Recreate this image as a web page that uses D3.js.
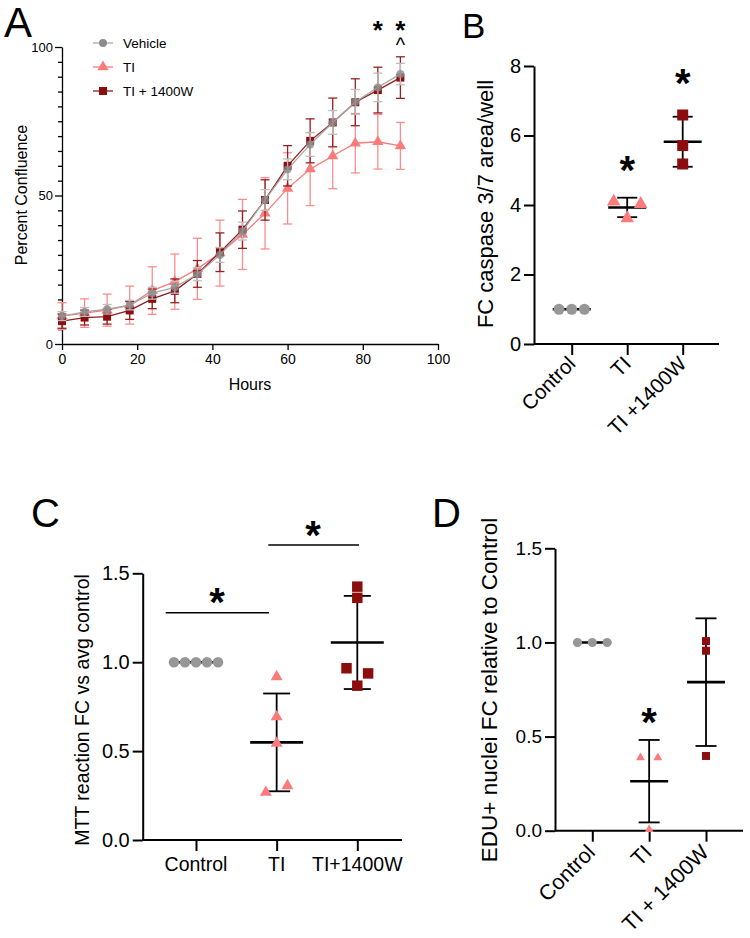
<!DOCTYPE html>
<html><head><meta charset="utf-8">
<script src="https://cdn.jsdelivr.net/npm/d3@7"></script>
<style>
body{margin:0;background:#fff}
svg text{font-family:"Liberation Sans",Arial,Helvetica,sans-serif;fill:#000}
</style>
</head><body>
<svg id="chart" width="750" height="938"></svg>
<script>
// ===================== DATA =====================
// Panel A – percent confluence over time
const hours = [0,6,12,18,24,30,36,42,48,54,60,66,72,78,84,90];
const vehicleMean = [9.4,10.8,11.7,13.1,17.1,19.1,23.5,30.0,38.0,48.5,58.8,67.2,74.6,81.5,86.4,90.9];
const vehicleSD   = [1.5,1.5,1.6,1.6,2.0,2.0,2.2,2.5,3.0,3.5,3.5,4.0,4.0,4.2,4.8,3.6];
const tiMean      = [9.4,10.4,11.4,13.1,18.0,21.0,25.3,30.6,36.9,44.0,52.4,58.9,63.3,67.6,68.1,66.7];
const tiSD        = [4.5,4.8,5.4,6.4,8.0,9.3,10.3,11.1,11.8,12.0,12.0,12.3,11.0,10.0,9.2,7.9];
const tiwMean     = [7.7,8.9,9.2,11.3,15.2,17.9,23.6,30.9,38.5,48.5,60.0,68.4,74.6,81.4,85.5,89.7];
const tiwSD       = [2.4,2.5,2.5,3.0,3.3,4.0,4.5,6.5,6.3,6.8,6.8,7.4,8.2,7.9,7.7,7.0];
const aSeriesNames = ["Vehicle","TI","TI + 1400W"];
const aXTicks = [0,20,40,60,80,100];
const aYTicks = [0,50,100];
const aStarHours = [84,90];
const aCaretHours = [90];

// Panel B – caspase 3/7
const bCategories = ["Control","TI","TI +1400W"];
const bControl = [1.0,1.0,1.0];
const bTI      = [4.10,3.62,4.03];
const bTIW     = [6.59,5.71,5.18];
const bMean    = [1.0,3.93,5.82];
const bSD      = [0.0,0.28,0.72];
const bYTicks  = [0,2,4,6,8];
const bStarCats = ["TI","TI +1400W"];

// Panel C – MTT
const cCategories = ["Control","TI","TI+1400W"];
const cControl = [1.0,1.0,1.0,1.0,1.0];
const cTI      = [0.918,0.693,0.544,0.268,0.305];
const cTIW     = [1.425,1.362,0.966,0.937,0.868];
const cMean    = [1.0,0.549,1.111];
const cSD      = [0.0,0.275,0.262];
const cYTicks  = [0,0.5,1.0,1.5];

// Panel D – EdU
const dCategories = ["Control","TI","TI + 1400W"];
const dControl = [1.0,1.0,1.0];
const dTI      = [0.388,0.388,0.007];
const dTIW     = [1.007,0.956,0.397];
const dMean    = [1.0,0.263,0.789];
const dSD      = [0.0,0.219,0.339];
const dYTicks  = [0,0.5,1.0,1.5];
const dStarCats = ["TI"];

// ===================== STYLE =====================
const GRAY = "#979797", PINK = "#fa7b7b", DARK = "#8b0d0d";
const svg = d3.select("#chart");

function styleAxis(g, w){
  g.selectAll(".domain").attr("stroke","#000").attr("stroke-width",w);
  g.selectAll(".tick line").attr("stroke","#000").attr("stroke-width",w);
  g.selectAll(".tick text").attr("fill","#000");
}
function panelLetter(t,x,y,size){
  svg.append("text").attr("x",x).attr("y",y).attr("font-size",size).text(t);
}
function star(x,cy,size){
  svg.append("text").attr("x",x).attr("y",cy+size*0.56).attr("text-anchor","middle")
    .attr("font-size",size).attr("font-weight","bold").text("*");
}

// ===================== PANEL A =====================
(function(){
  const xA = d3.scaleLinear().domain([0,100]).range([62,438]);
  const yA = d3.scaleLinear().domain([0,100]).range([344,47]);
  const g = svg.append("g");

  // minor y ticks
  const minor = g.append("g").attr("transform","translate(62,0)")
    .call(d3.axisLeft(yA).tickValues(d3.range(5,100,5).filter(v=>v%50!==0)).tickSize(4).tickFormat(""));
  minor.select(".domain").remove(); styleAxis(minor,1.3);
  const ya = g.append("g").attr("transform","translate(62,0)")
    .call(d3.axisLeft(yA).tickValues(aYTicks).tickSize(7).tickSizeOuter(0).tickPadding(2));
  ya.selectAll("text").attr("font-size",13);
  styleAxis(ya,1.3);
  const xa = g.append("g").attr("transform","translate(0,344)")
    .call(d3.axisBottom(xA).tickValues(aXTicks).tickSize(6).tickSizeOuter(0).tickPadding(4));
  xa.selectAll("text").attr("font-size",14);
  styleAxis(xa,1.3);

  g.append("text").attr("transform","translate(27,195) rotate(-90)").attr("text-anchor","middle")
    .attr("font-size",16).text("Percent Confluence");
  g.append("text").attr("x",250).attr("y",390).attr("text-anchor","middle").attr("font-size",16).text("Hours");

  const series = [
    {name:aSeriesNames[1], mean:tiMean, sd:tiSD, color:PINK, line:PINK, bar:"#fb8d8d", sym:d3.symbolTriangle, size:55, op:1},
    {name:aSeriesNames[2], mean:tiwMean, sd:tiwSD, color:DARK, line:"#8f1f1f", bar:"#962020", sym:d3.symbolSquare, size:64, op:1},
    {name:aSeriesNames[0], mean:vehicleMean, sd:vehicleSD, color:"#8c8c8c", line:"#a8a8a8", bar:"#bdbdbd", sym:d3.symbolCircle, size:50, op:0.8}
  ];
  series.forEach(s=>{
    const pts = hours.map((h,i)=>({h, m:s.mean[i], sd:s.sd[i]}));
    const sg = g.append("g");
    sg.selectAll("line.v").data(pts).join("line")
      .attr("x1",d=>xA(d.h)).attr("x2",d=>xA(d.h))
      .attr("y1",d=>yA(d.m+d.sd)).attr("y2",d=>yA(d.m-d.sd))
      .attr("stroke",s.bar).attr("stroke-width",1.3);
    ["top","bot"].forEach(k=>{
      sg.selectAll("line."+k).data(pts).join("line")
        .attr("x1",d=>xA(d.h)-4.5).attr("x2",d=>xA(d.h)+4.5)
        .attr("y1",d=>yA(k==="top"?d.m+d.sd:d.m-d.sd)).attr("y2",d=>yA(k==="top"?d.m+d.sd:d.m-d.sd))
        .attr("stroke",s.bar).attr("stroke-width",1.3);
    });
    sg.append("path").datum(pts)
      .attr("d",d3.line().x(d=>xA(d.h)).y(d=>yA(d.m)))
      .attr("fill","none").attr("stroke",s.line).attr("stroke-width",1.3);
    sg.selectAll("path.m").data(pts).join("path")
      .attr("transform",d=>`translate(${xA(d.h)},${yA(d.m)})`)
      .attr("d",d3.symbol(s.sym,s.size)).attr("fill",s.color).attr("fill-opacity",s.op);
  });

  // legend
  const legOrder = [series[2],series[0],series[1]];
  legOrder.forEach((s,i)=>{
    const y = 43 + i*24;
    g.append("line").attr("x1",93).attr("x2",113).attr("y1",y).attr("y2",y).attr("stroke",s.line).attr("stroke-width",1.3);
    g.append("path").attr("transform",`translate(103,${y})`).attr("d",d3.symbol(s.sym,s.size)).attr("fill",s.color);
    g.append("text").attr("x",123).attr("y",y+5).attr("font-size",13.5).text(s.name);
  });

  aStarHours.forEach(h=>star(xA(h),24,26));
  aCaretHours.forEach(h=>{
    g.append("text").attr("x",xA(h)).attr("y",51.5).attr("text-anchor","middle").attr("font-size",20).text("^");
  });
  panelLetter("A",4,37,42);
})();

// ===================== DOT PLOT HELPER =====================
function spread(values, y, thresh, step, pairStep){
  const idx = values.map((v,i)=>i).sort((a,b)=>values[a]-values[b]);
  const groups=[]; let cur=[idx[0]];
  for(let k=1;k<idx.length;k++){
    if(Math.abs(y(values[idx[k]])-y(values[cur[cur.length-1]]))<thresh) cur.push(idx[k]);
    else {groups.push(cur); cur=[idx[k]];}
  }
  groups.push(cur);
  const off = new Array(values.length).fill(0);
  groups.forEach(gr=>{
    gr.sort((a,b)=>a-b);
    const n=gr.length;
    gr.forEach((id,j)=>{ off[id] = n===2 ? (j===0?-pairStep:pairStep) : (j-(n-1)/2)*step; });
  });
  return off;
}

function dotPanel(c){
  const g = svg.append("g");
  const x = d3.scalePoint().domain(c.cats).range(c.xr);
  const y = d3.scaleLinear().domain(c.yd).range(c.yr);
  const y0 = c.yr[0];
  // axes
  const ya = g.append("g").attr("transform",`translate(${c.ax0},0)`)
    .call(d3.axisLeft(y).tickValues(c.yTicks).tickFormat(c.fmt).tickSize(10).tickSizeOuter(0).tickPadding(3));
  ya.selectAll("text").attr("font-size",c.tickFont);
  styleAxis(ya,2);
  const xa = g.append("g").attr("transform",`translate(0,${y0})`)
    .call(d3.axisBottom(x).tickSize(11).tickSizeOuter(0).tickFormat(""));
  xa.select(".domain").remove();
  styleAxis(xa,2);
  g.append("line").attr("x1",c.ax0).attr("x2",c.ax1).attr("y1",y0).attr("y2",y0).attr("stroke","#000").attr("stroke-width",2);
  // category labels
  const lab = g.selectAll("text.cat").data(c.cats).join("text").attr("font-size",c.catFont).text(d=>d);
  if(c.rotate){
    lab.attr("text-anchor","end").attr("transform",d=>`translate(${x(d)+c.rdx},${y0+c.rdy}) rotate(-45)`);
  } else {
    lab.attr("text-anchor","middle").attr("x",d=>x(d)).attr("y",y0+31);
  }
  // title
  g.append("text").attr("transform",`translate(${c.titleX},${c.titleY}) rotate(-90)`).attr("text-anchor","middle")
    .attr("font-size",c.titleFont).text(c.title);
  // mean & sd
  c.cats.forEach((cat,i)=>{
    const cx=x(cat), m=c.mean[i], s=c.sd[i];
    if(s>0){
      g.append("line").attr("x1",cx).attr("x2",cx).attr("y1",y(m+s)).attr("y2",y(m-s)).attr("stroke","#000").attr("stroke-width",1.8);
      [m+s,m-s].forEach(v=>g.append("line").attr("x1",cx-c.capW/2).attr("x2",cx+c.capW/2).attr("y1",y(v)).attr("y2",y(v)).attr("stroke","#000").attr("stroke-width",1.8));
    }
    g.append("line").attr("x1",cx-c.meanW/2).attr("x2",cx+c.meanW/2).attr("y1",y(m)).attr("y2",y(m)).attr("stroke","#000").attr("stroke-width",2.6);
  });
  // points
  c.groups.forEach((grp,i)=>{
    const cx = x(c.cats[i]);
    const off = spread(grp.values,y,grp.thresh,grp.step,grp.pair);
    g.selectAll(null).data(grp.values).join("path")
      .attr("transform",(d,k)=>`translate(${cx+off[k]},${y(d)})`)
      .attr("d",d3.symbol(grp.sym,grp.size)).attr("fill",grp.color);
  });
  return {x,y,g};
}

// ===================== PANEL B =====================
(function(){
  const p = dotPanel({
    cats:bCategories, xr:[571.7,682.7], yd:[0,8], yr:[344,66], ax0:534, ax1:719,
    yTicks:bYTicks, fmt:d3.format("d"), tickFont:20, catFont:20.5, rotate:true, rdx:5, rdy:21,
    title:"FC caspase 3/7 area/well", titleX:493, titleY:204, titleFont:22,
    mean:bMean, sd:bSD, capW:20, meanW:38,
    groups:[
      {values:bControl, sym:d3.symbolCircle, size:95, color:GRAY, thresh:12, step:12.7, pair:13.5},
      {values:bTI, sym:d3.symbolTriangle, size:80, color:PINK, thresh:12, step:12.7, pair:13.5},
      {values:bTIW, sym:d3.symbolSquare, size:121, color:DARK, thresh:12, step:12.7, pair:13.5}
    ]
  });
  bStarCats.forEach((cat,i)=>star(p.x(cat),i===0?161.7:75,40));
  panelLetter("B",462,38,35);
})();

// ===================== PANEL C =====================
(function(){
  const p = dotPanel({
    cats:cCategories, xr:[196,357.3], yd:[0,1.5], yr:[840,573.3], ax0:142.7, ax1:402,
    yTicks:cYTicks, fmt:d3.format(".1f"), tickFont:20, catFont:19.5, rotate:false,
    title:"MTT reaction FC vs avg control", titleX:89, titleY:710, titleFont:19.5,
    mean:cMean, sd:cSD, capW:27, meanW:53,
    groups:[
      {values:cControl, sym:d3.symbolCircle, size:88, color:GRAY, thresh:10, step:11, pair:10.8},
      {values:cTI, sym:d3.symbolTriangle, size:62, color:PINK, thresh:10, step:11, pair:10.8},
      {values:cTIW, sym:d3.symbolSquare, size:110, color:DARK, thresh:10, step:11, pair:10.8}
    ]
  });
  // significance brackets
  p.g.append("line").attr("x1",165.7).attr("x2",269).attr("y1",612.7).attr("y2",612.7).attr("stroke","#000").attr("stroke-width",1.5);
  p.g.append("line").attr("x1",268.3).attr("x2",359).attr("y1",545).attr("y2",545).attr("stroke","#000").attr("stroke-width",1.5);
  star(217,593.3,40);
  star(313,526.7,40);
  panelLetter("C",31,527,40);
})();

// ===================== PANEL D =====================
(function(){
  const p = dotPanel({
    cats:dCategories, xr:[592.3,706], yd:[0,1.5], yr:[830.7,548.3], ax0:555, ax1:743,
    yTicks:dYTicks, fmt:d3.format(".1f"), tickFont:19, catFont:21.5, rotate:true, rdx:4, rdy:23,
    title:"EDU+ nuclei FC relative to Control", titleX:497, titleY:690, titleFont:22.5,
    mean:dMean, sd:dSD, capW:21, meanW:38,
    groups:[
      {values:dControl, sym:d3.symbolCircle, size:64, color:GRAY, thresh:8, step:14.8, pair:8.7},
      {values:dTI, sym:d3.symbolTriangle, size:34, color:PINK, thresh:8, step:14.8, pair:8.7},
      {values:dTIW, sym:d3.symbolSquare, size:64, color:DARK, thresh:8, step:14.8, pair:8.7}
    ]
  });
  dStarCats.forEach(cat=>star(p.x(cat),713.3,40));
  panelLetter("D",432,527,40);
})();
</script>
</body></html>
